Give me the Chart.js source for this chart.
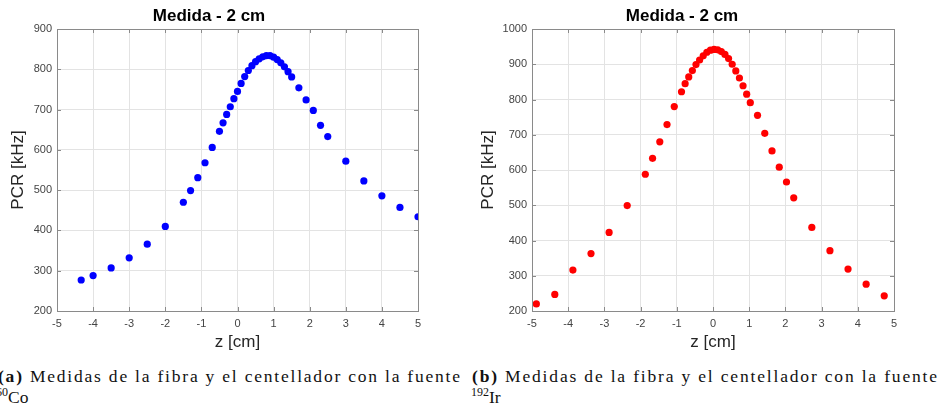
<!DOCTYPE html>
<html>
<head>
<meta charset="utf-8">
<script src="https://cdn.jsdelivr.net/npm/chart.js@4.4.1/dist/chart.umd.min.js"></script>
<style>
  html, body { margin:0; padding:0; background:#fff; }
  body { width:940px; height:407px; position:relative; overflow:hidden; }
  .panel { position:absolute; top:0; width:470px; height:360px; }
  .cap { position:absolute; font-family:'Liberation Serif','Times New Roman',serif; font-size:17.5px; line-height:17px; color:#111; white-space:nowrap; }
  .cap sup { font-size:12px; position:relative; top:-7px; vertical-align:baseline; }
</style>
</head>
<body>
<div class="panel" style="left:0"><canvas id="chartCo"></canvas></div>
<div class="panel" style="left:470px"><canvas id="chartIr"></canvas></div>

<div class="cap fit" data-w="462" style="left:-2px; top:368px"><b>(a)</b> Medidas de la fibra y el centellador con la fuente</div>
<div class="cap" style="left:-4px; top:389px"><sup>60</sup>Co</div>
<div class="cap fit" data-w="465" style="left:472px; top:368px"><b>(b)</b> Medidas de la fibra y el centellador con la fuente</div>
<div class="cap" style="left:471px; top:389px"><sup>192</sup>Ir</div>

<script>
// 60Co source (left)
const zCo = [-4.33, -4, -3.5, -3, -2.5, -2, -1.5, -1.3, -1.1, -0.9, -0.7, -0.5, -0.4, -0.3, -0.2, -0.1, 0, 0.1, 0.2, 0.3, 0.4, 0.5, 0.6, 0.7, 0.8, 0.9, 1.0, 1.1, 1.2, 1.3, 1.4, 1.5, 1.7, 1.9, 2.1, 2.3, 2.5, 3, 3.5, 4, 4.5, 5];
const pcrCo = [277, 288, 307, 332, 366, 410, 470, 499, 531, 568, 606, 646, 667, 688, 707, 727, 745, 765, 782, 797, 809, 819, 826, 831, 834, 834, 830, 824, 816, 806, 794, 781, 754, 724, 698, 661, 633, 572, 523, 486, 457, 434];

// 192Ir source (right)
const zIr = [-4.88, -4.37, -3.87, -3.37, -2.87, -2.37, -1.87, -1.67, -1.47, -1.27, -1.07, -0.87, -0.77, -0.67, -0.57, -0.47, -0.37, -0.27, -0.17, -0.07, 0.03, 0.13, 0.23, 0.33, 0.43, 0.53, 0.63, 0.73, 0.83, 0.93, 1.03, 1.23, 1.43, 1.63, 1.83, 2.03, 2.23, 2.73, 3.23, 3.73, 4.23, 4.73];
const pcrIr = [220, 247, 316, 363, 423, 499, 588, 633, 680, 729, 780, 822, 845, 864, 882, 899, 912, 924, 934, 940, 942, 941, 936, 928, 916, 900, 881, 861, 839, 815, 791, 755, 704, 654, 608, 566, 521, 437, 371, 319, 276, 243];

const titleText = 'Medida - 2 cm';
const xLabel = 'z [cm]';
const yLabel = 'PCR [kHz]';

Chart.defaults.font.family = "'Liberation Sans', Arial, sans-serif";

// axes box with inward ticks, MATLAB style
const boxPlugin = {
  id:'box',
  afterDatasetsDraw(chart){
    const {ctx, chartArea:a, scales:{x, y}} = chart;
    ctx.save();
    ctx.strokeStyle = '#8a8a8a';
    ctx.lineWidth = 1;
    ctx.beginPath();
    x.ticks.forEach(t=>{
      const px = Math.round(x.getPixelForValue(t.value)) + .5;
      ctx.moveTo(px, a.bottom); ctx.lineTo(px, a.bottom - 4);
      ctx.moveTo(px, a.top); ctx.lineTo(px, a.top + 4);
    });
    y.ticks.forEach(t=>{
      const py = Math.round(y.getPixelForValue(t.value)) + .5;
      ctx.moveTo(a.left, py); ctx.lineTo(a.left + 4, py);
      ctx.moveTo(a.right, py); ctx.lineTo(a.right - 4, py);
    });
    ctx.stroke();
    ctx.strokeRect(Math.round(a.left)+.5, Math.round(a.top)+.5, Math.round(a.right-a.left), Math.round(a.bottom-a.top));
    ctx.restore();
  }
};

function makeChart(id, xs, ys, color, yMax, yWidth, padRight){
  return new Chart(document.getElementById(id), {
    type:'scatter',
    data:{ datasets:[{ data: xs.map((v,i)=>({x:v, y:ys[i]})), backgroundColor:color, borderWidth:0, pointRadius:3.6, pointHoverRadius:3.6 }] },
    options:{
      responsive:false, animation:false,
      layout:{ padding:{ left:0, right:padRight, top:0, bottom:0 } },
      plugins:{
        legend:{display:false}, tooltip:{enabled:false},
        title:{ display:true, text:titleText, color:'#000', font:{size:17, weight:'bold'}, padding:{top:6, bottom:2.6} }
      },
      scales:{
        x:{
          type:'linear', min:-5, max:5,
          ticks:{ stepSize:1, color:'#444', font:{size:11}, padding:6, callback:v=>String(v) },
          grid:{ color:'#e3e3e3', drawTicks:false },
          border:{ display:false },
          title:{ display:true, text:xLabel, color:'#262626', font:{size:17}, padding:{top:0, bottom:7} },
          afterFit(s){ s.height = 49; }
        },
        y:{
          min:200, max:yMax,
          ticks:{ stepSize:100, color:'#444', font:{size:11}, padding:5, callback:v=>String(v) },
          grid:{ color:'#e3e3e3', drawTicks:false },
          border:{ display:false },
          title:{ display:true, text:yLabel, color:'#262626', font:{size:17}, padding:{top:8, bottom:0} },
          afterFit(s){ s.width = yWidth; }
        }
      }
    },
    plugins:[boxPlugin]
  });
}

['chartCo','chartIr'].forEach(id=>{ const c=document.getElementById(id); c.width=470; c.height=360; });
makeChart('chartCo', zCo, pcrCo, '#0000ff', 900, 57, 52);
makeChart('chartIr', zIr, pcrIr, '#ff0000', 1000, 62, 46);

// stretch caption lines to the widths in the original
document.querySelectorAll('.cap.fit').forEach(el=>{
  const target = +el.dataset.w;
  const n = el.textContent.length - 1;
  const w = el.getBoundingClientRect().width;
  el.style.letterSpacing = ((target - w) / n).toFixed(3) + 'px';
});
</script>
</body>
</html>
